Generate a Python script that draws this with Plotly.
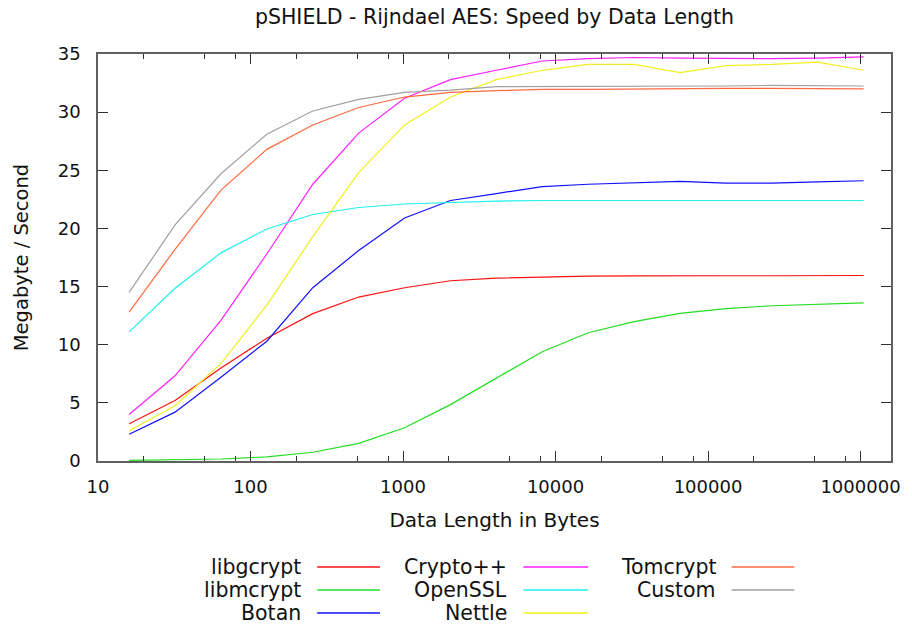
import plotly.graph_objects as go

# ---- data ----
data_length = [16, 32, 64, 128, 256, 512, 1024, 2048, 4096, 8192, 16384,
               32768, 65536, 131072, 262144, 524288, 1048576]

libgcrypt = [3.2, 5.2, 8.0, 10.55, 12.67, 14.1, 14.9, 15.5, 15.73, 15.82, 15.9,
             15.92, 15.9, 15.93, 15.93, 15.95, 15.95]
libmcrypt = [0.05, 0.08, 0.17, 0.35, 0.75, 1.52, 2.86, 4.85, 7.1, 9.4, 11.03,
             11.98, 12.7, 13.1, 13.35, 13.5, 13.6]
botan = [2.3, 4.2, 7.2, 10.3, 14.9, 18.1, 20.9, 22.4, 23.0, 23.6, 23.8,
         23.9, 24.05, 23.9, 23.9, 24.0, 24.1]
cryptopp = [4.0, 7.33, 12.1, 17.8, 23.8, 28.2, 31.2, 32.8, 33.6, 34.4, 34.6,
            34.7, 34.65, 34.6, 34.6, 34.65, 34.75]
openssl = [11.1, 14.85, 17.9, 19.95, 21.2, 21.8, 22.1, 22.25, 22.35, 22.4, 22.4,
           22.45, 22.4, 22.45, 22.4, 22.4, 22.4]
nettle = [2.6, 4.75, 8.4, 13.4, 19.3, 24.8, 28.9, 31.3, 32.8, 33.6, 34.1,
          34.1, 33.4, 34.0, 34.1, 34.3, 33.6]
tomcrypt = [12.8, 18.2, 23.3, 26.8, 28.9, 30.4, 31.3, 31.7, 31.85, 31.95, 31.95,
            32.0, 32.05, 32.05, 32.05, 32.0, 32.0]
custom = [14.5, 20.3, 24.7, 28.1, 30.1, 31.1, 31.7, 31.9, 32.2, 32.2, 32.2,
          32.2, 32.25, 32.25, 32.3, 32.25, 32.25]

series_names = ["libgcrypt", "libmcrypt", "Botan", "Crypto++", "OpenSSL",
                "Nettle", "Tomcrypt", "Custom"]
series_values = [libgcrypt, libmcrypt, botan, cryptopp, openssl, nettle,
                 tomcrypt, custom]
series_colors = ["#ff1010", "#22dd22", "#1010ff", "#ff20ff", "#20f0f0",
                 "#f0f020", "#ff6a40", "#a0a0a0"]

x_tick_vals = [10, 100, 1000, 10000, 100000, 1000000]
x_tick_text = ["10", "100", "1000", "10000", "100000", "1000000"]
x_minor_vals = [m * 10 ** e for e in range(1, 7) for m in (2, 5, 8)]

title_text = "pSHIELD - Rijndael AES: Speed by Data Length"
x_title = "Data Length in Bytes"
y_title = "Megabyte / Second"

# ---- figure ----
W, H = 912, 628
L, R, T, B = 98, 18, 54, 167
PW, PH = W - L - R, H - T - B

FONT = "DejaVu Sans"
TXT = "#111111"
fig = go.Figure()
for name, vals, col in zip(series_names, series_values, series_colors):
    fig.add_trace(go.Scatter(x=data_length, y=vals, mode="lines", name=name,
                             line=dict(color=col, width=1.2),
                             showlegend=False))

axis_common = dict(showgrid=False, zeroline=False, showline=True,
                   linecolor="#606060", linewidth=1.5, mirror="allticks",
                   ticks="inside", tickcolor="#303030", tickwidth=1,
                   tickfont=dict(family=FONT, size=18, color=TXT))

fig.update_xaxes(type="log", range=[1, 6.2], tickmode="array",
                 tickvals=x_tick_vals, ticktext=x_tick_text, ticklen=10,
                 minor=dict(ticks="inside", tickmode="array",
                            tickvals=x_minor_vals, ticklen=5,
                            tickcolor="#303030", showgrid=False),
                 ticklabelstandoff=9,
                 title=dict(text=x_title, standoff=17,
                            font=dict(family=FONT, size=20, color=TXT)),
                 **axis_common)
fig.update_yaxes(range=[0, 35], dtick=5, ticklen=10, ticklabelstandoff=12,
                 title=dict(text=y_title, standoff=24,
                            font=dict(family=FONT, size=19.5, color=TXT)),
                 **axis_common)

# ---- legend (gnuplot style: text right-aligned, sample to the right) ----
def px(x):
    return (x - L) / PW

def py(y):
    return (H - B - y) / PH

legend_cols = [(304, 318, 381), (511, 525, 590), (720, 734, 797)]
legend_rows = [567, 590, 613]
shapes = []
annotations = []
for i, (name, col) in enumerate(zip(series_names, series_colors)):
    c, r = divmod(i, 3)
    tx, l0, l1 = legend_cols[c]
    yy = legend_rows[r]
    annotations.append(dict(text=name, xref="paper", yref="paper",
                            x=px(tx), y=py(yy), xanchor="right",
                            yanchor="middle", showarrow=False,
                            font=dict(family=FONT, size=20.5, color=TXT)))
    shapes.append(dict(type="line", xref="paper", yref="paper",
                       x0=px(l0), x1=px(l1), y0=py(yy), y1=py(yy),
                       line=dict(color=col, width=1.6)))

fig.update_layout(
    width=W, height=H,
    margin=dict(l=L, r=R, t=T, b=B, pad=0),
    paper_bgcolor="white", plot_bgcolor="white",
    title=dict(text=title_text, x=0.5, xref="paper", y=1 - 17 / H,
               yref="container", yanchor="middle", xanchor="center",
               font=dict(family=FONT, size=20.5, color=TXT)),
    shapes=shapes, annotations=annotations,
    showlegend=False,
)

fig.write_html("out.html")
